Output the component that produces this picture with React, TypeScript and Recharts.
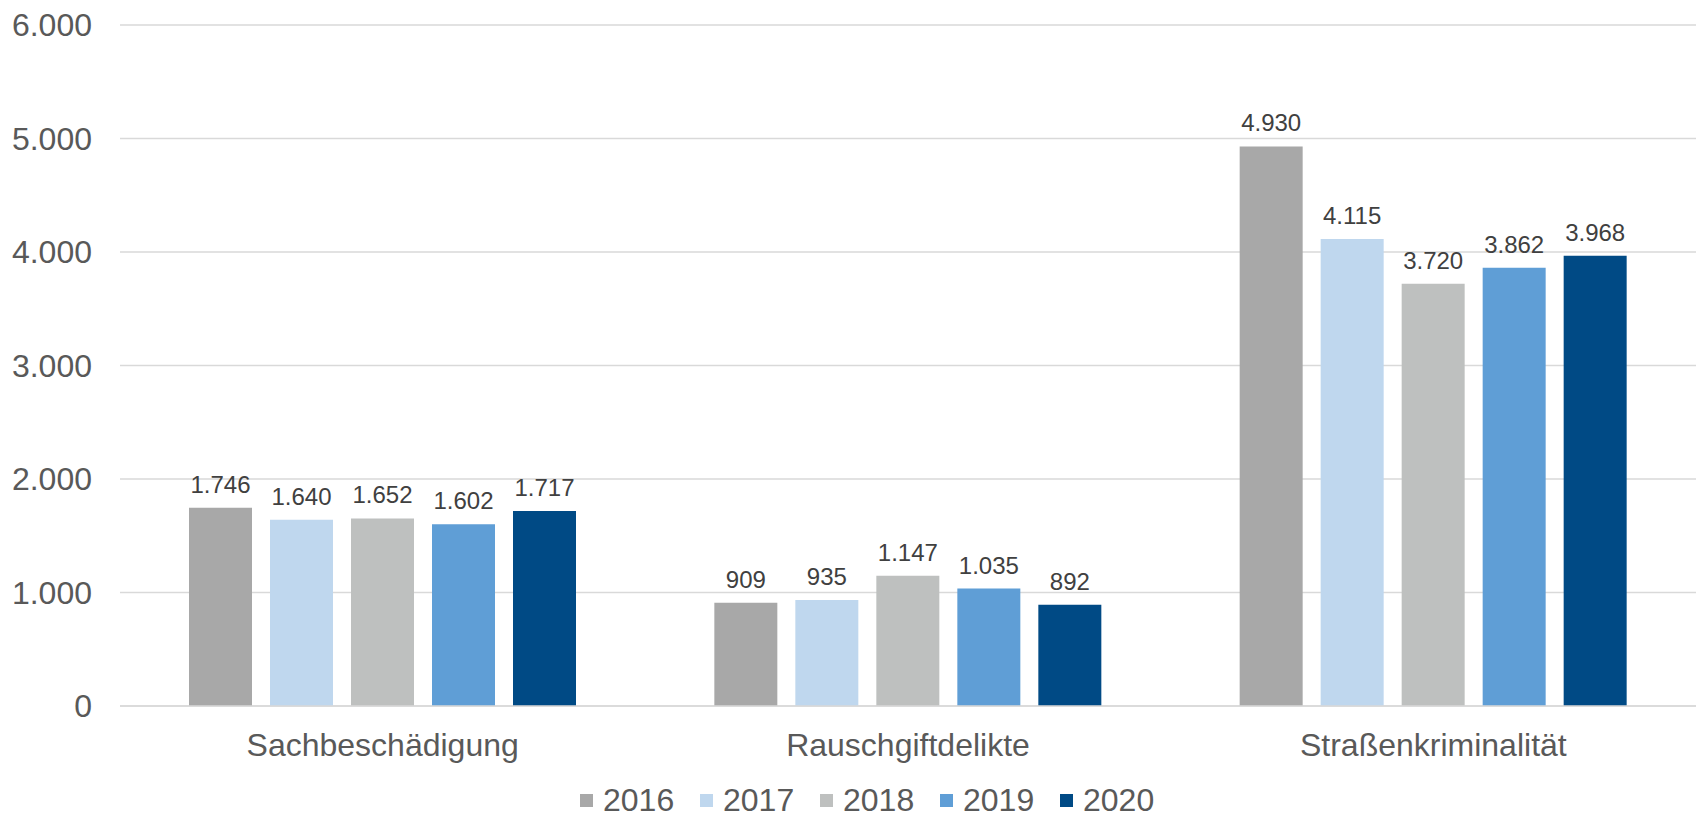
import { BarChart, Bar, XAxis, YAxis, CartesianGrid, Legend, LabelList } from "recharts";

const categories = ["Sachbeschädigung", "Rauschgiftdelikte", "Straßenkriminalität"];
const years = ["2016", "2017", "2018", "2019", "2020"];
const v2016 = [1746, 909, 4930];
const v2017 = [1640, 935, 4115];
const v2018 = [1652, 1147, 3720];
const v2019 = [1602, 1035, 3862];
const v2020 = [1717, 892, 3968];
const yTicks = [0, 1000, 2000, 3000, 4000, 5000, 6000];

const colors = ["#A8A8A8", "#BFD7EE", "#BEC0BF", "#5F9ED6", "#004A85"];
const seriesValues = [v2016, v2017, v2018, v2019, v2020];

const data = categories.map((name, i) => {
  const row: Record<string, string | number> = { name };
  years.forEach((y, s) => {
    row[y] = seriesValues[s][i];
  });
  return row;
});

// german thousands separator
const fmt = (v: number) => String(v).replace(/\B(?=(\d{3})+(?!\d))/g, ".");

const font = "'Liberation Sans', Arial, sans-serif";

function LegendContent({ payload }: any) {
  return (
    <div style={{ height: 40, boxSizing: "border-box", paddingTop: 9, fontFamily: font }}>
      <div style={{ display: "flex", marginLeft: 580, height: 29 }}>
        {(payload || []).map((p: any) => (
          <div key={p.value} style={{ display: "flex", alignItems: "center", width: 120, height: 29 }}>
            <span style={{ width: 13, height: 13, background: p.color, marginRight: 10 }} />
            <span
              style={{
                display: "inline-block",
                height: 29,
                fontSize: 32,
                lineHeight: "29px",
                color: "#595959",
              }}
            >
              {p.value}
            </span>
          </div>
        ))}
      </div>
    </div>
  );
}

export default function App() {
  return (
    <div style={{ position: "absolute", left: 0, top: 0, background: "#fff" }}>
      <BarChart
        width={1696}
        height={817}
        data={data}
        margin={{ top: 25, right: 0, bottom: 0, left: 0 }}
        barSize={63}
        barGap={18}
        style={{ fontFamily: font }}
      >
        <CartesianGrid vertical={false} stroke="#D9D9D9" strokeWidth={1.5} />
        <XAxis
          dataKey="name"
          height={71}
          tickLine={false}
          tickSize={0}
          tickMargin={27}
          axisLine={{ stroke: "#D9D9D9", strokeWidth: 1.5 }}
          tick={{ fontSize: 32, fill: "#595959" }}
        />
        <YAxis
          width={120}
          domain={[0, 6000]}
          ticks={yTicks}
          axisLine={false}
          tickLine={false}
          tickSize={0}
          tickMargin={28}
          tickFormatter={fmt}
          tick={{ fontSize: 32, fill: "#595959" }}
        />
        <Legend
          verticalAlign="bottom"
          content={<LegendContent />}
          wrapperStyle={{ left: 0, width: 1696 }}
        />
        {years.map((y, s) => (
          <Bar key={y} dataKey={y} fill={colors[s]} isAnimationActive={false}>
            <LabelList
              dataKey={y}
              position="top"
              offset={15}
              formatter={(v: any) => fmt(Number(v))}
              style={{ fontSize: 24, fill: "#404040" }}
            />
          </Bar>
        ))}
      </BarChart>
    </div>
  );
}
